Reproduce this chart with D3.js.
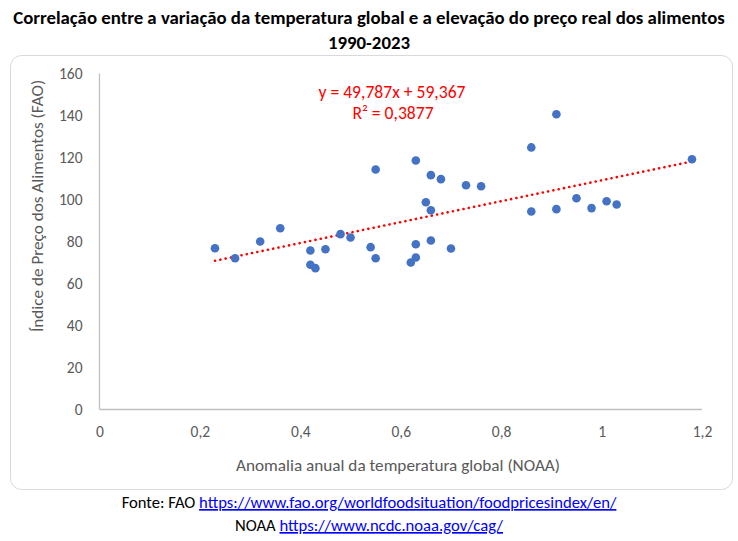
<!DOCTYPE html>
<html><head><meta charset="utf-8">
<script src="https://cdn.jsdelivr.net/npm/d3@7"></script>
<style>html,body{margin:0;padding:0;background:#fff;} svg{display:block;}</style>
</head><body>
<svg id="c" width="738" height="541"></svg>
<script>
const anomaly = [0.23,0.27,0.32,0.36,0.42,0.42,0.43,0.45,0.48,0.50,0.54,0.55,0.55,0.62,0.63,0.63,0.63,0.66,0.66,0.65,0.66,0.68,0.70,0.73,0.76,0.86,0.86,0.91,0.91,0.95,0.98,1.01,1.03,1.18];
const price   = [76.8,72.0,80.0,86.3,75.7,68.9,67.3,76.3,83.5,81.9,77.3,72.0,114.3,70.0,72.4,78.7,118.6,80.5,94.9,98.7,111.6,109.7,76.7,106.8,106.3,124.8,94.3,140.6,95.4,100.6,95.9,99.2,97.6,119.2];
const xTicks = [0,0.2,0.4,0.6,0.8,1,1.2];
const yTicks = [0,20,40,60,80,100,120,140,160];
const slope = 49.787, intercept = 59.367, r2 = "0,3877";
const titleLines = ["Correlação entre a variação da temperatura global e a elevação do preço real dos alimentos","1990-2023"];
const xTitle = "Anomalia anual da temperatura global (NOAA)";
const yTitle = "Índice de Preço dos Alimentos (FAO)";
const src1 = ["Fonte: FAO ","https://www.fao.org/worldfoodsituation/foodpricesindex/en/"];
const src2 = ["NOAA ","https://www.ncdc.noaa.gov/cag/"];

const FONT = "Carlito, Calibri, Lato, 'Open Sans', sans-serif";
const svg = d3.select("#c");
const fmt = v => String(v).replace(".", ",");

function fit(sel, target){
  const w = sel.node().getComputedTextLength();
  const fs = parseFloat(sel.attr("font-size"));
  if (w > 0) sel.attr("font-size", (fs * target / w).toFixed(2));
  return sel;
}

// chart border
svg.append("rect").attr("x",10.5).attr("y",55.5).attr("width",722).attr("height",434)
  .attr("rx",11).attr("fill","#fff").attr("stroke","#d9d9d9");

// title
const t1 = svg.append("text").attr("x",369).attr("y",24).attr("text-anchor","middle")
  .attr("font-family",FONT).attr("font-weight","bold").attr("font-size",16).attr("fill","#000").text(titleLines[0]);
fit(t1, 712);
const fsT = t1.attr("font-size");
svg.append("text").attr("x",369).attr("y",49).attr("text-anchor","middle")
  .attr("font-family",FONT).attr("font-weight","bold").attr("font-size",fsT).attr("fill","#000").text(titleLines[1]);

const x = d3.scaleLinear().domain([0,1.2]).range([99.5,702]);
const y = d3.scaleLinear().domain([0,160]).range([409.5,73.5]);

// axes
const gx = svg.append("g").attr("transform","translate(0,409.5)")
  .call(d3.axisBottom(x).tickValues(xTicks).tickSize(0).tickPadding(16).tickFormat(fmt));
const gy = svg.append("g").attr("transform","translate(99.5,0)")
  .call(d3.axisLeft(y).tickValues(yTicks).tickSize(0).tickPadding(17).tickFormat(fmt));
[gx,gy].forEach(g=>{
  g.select(".domain").attr("stroke","#bfbfbf").attr("stroke-width",1.3);
  g.selectAll("text").attr("font-family",FONT).attr("font-size",15.5).attr("fill","#595959");
});
gx.select(".domain").attr("d","M99.5,0H702");
gy.select(".domain").attr("d","M0,73.5V409.5");

// axis titles
const xt = svg.append("text").attr("x",398).attr("y",470.5).attr("text-anchor","middle")
  .attr("font-family",FONT).attr("font-size",16).attr("fill","#595959").text(xTitle);
fit(xt, 324);
svg.append("text").attr("transform","translate(43,206) rotate(-90)").attr("text-anchor","middle")
  .attr("font-family",FONT).attr("font-size",xt.attr("font-size")).attr("fill","#595959").text(yTitle);

// trendline
const xmin = d3.min(anomaly), xmax = d3.max(anomaly);
svg.append("line")
  .attr("x1",x(xmin)).attr("y1",y(slope*xmin+intercept))
  .attr("x2",x(xmax)).attr("y2",y(slope*xmax+intercept))
  .attr("stroke","#ff0000").attr("stroke-width",2.6).attr("stroke-linecap","round")
  .attr("stroke-dasharray","0.1 5.3");

// points
svg.append("g").selectAll("circle").data(anomaly.map((a,i)=>[a,price[i]])).join("circle")
  .attr("cx",d=>x(d[0])).attr("cy",d=>y(d[1])).attr("r",4.3).attr("fill","#4472c4");

// equation
const eq = svg.append("text").attr("x",392).attr("y",98).attr("text-anchor","middle")
  .attr("font-family",FONT).attr("font-size",15).attr("fill","#ff0000")
  .text(`y = ${fmt(slope)}x + ${fmt(intercept)}`);
fit(eq, 147);
const fsE = eq.attr("font-size");
svg.append("text").attr("x",393).attr("y",119).attr("text-anchor","middle")
  .attr("font-family",FONT).attr("font-size",fsE).attr("fill","#ff0000")
  .text(`R² = ${r2}`);

// sources
const s1 = svg.append("text").attr("x",369).attr("y",508).attr("text-anchor","middle")
  .attr("font-family",FONT).attr("font-size",15).attr("fill","#000");
s1.append("tspan").text(src1[0]);
s1.append("tspan").attr("fill","#0000ff").attr("text-decoration","underline").text(src1[1]);
fit(s1, 495);
const s2 = svg.append("text").attr("x",369).attr("y",531).attr("text-anchor","middle")
  .attr("font-family",FONT).attr("font-size",s1.attr("font-size")).attr("fill","#000");
s2.append("tspan").text(src2[0]);
s2.append("tspan").attr("fill","#0000ff").attr("text-decoration","underline").text(src2[1]);
</script>
</body></html>
